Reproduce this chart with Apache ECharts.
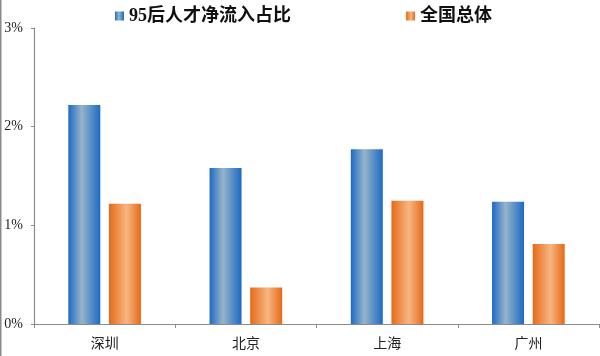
<!DOCTYPE html>
<html><head><meta charset="utf-8">
<script src="https://cdn.jsdelivr.net/npm/echarts@6/dist/echarts.min.js"></script>
<style>html,body{margin:0;padding:0;background:#fff}#c{width:600px;height:356px}</style>
</head><body><div id="c"></div>
<script>
var categories = ['深圳', '北京', '上海', '广州'];
var talent95 = [2.22, 1.58, 1.77, 1.24];
var national = [1.22, 0.37, 1.25, 0.81];
var yTicks = [0, 1, 2, 3];
var seriesNames = ['95后人才净流入占比', '全国总体'];

var serif = '"Liberation Serif", "Noto Sans CJK SC", serif';
function grad(edge, mid, pos) {
  return new echarts.graphic.LinearGradient(0, 0, 1, 0, [
    {offset: 0, color: edge}, {offset: pos, color: mid}, {offset: 1, color: edge}
  ]);
}
var chart = echarts.init(document.getElementById('c'));
chart.setOption({
  animation: false,
  graphic: [{type: 'rect', left: 0, top: 0, shape: {x: 0, y: 0, width: 1.5, height: 356}, style: {fill: '#8a8a8a'}}],
  legend: [
    {data: [seriesNames[0]], left: 115, top: 7, padding: 0, itemWidth: 9, itemHeight: 9, icon: 'rect', itemGap: 4,
     textStyle: {fontSize: 18, fontWeight: 'bold', color: '#111', fontFamily: serif}},
    {data: [seriesNames[1]], left: 406, top: 7, padding: 0, itemWidth: 9, itemHeight: 9, icon: 'rect', itemGap: 4,
     textStyle: {fontSize: 18, fontWeight: 'bold', color: '#111', fontFamily: serif}}
  ],
  grid: {left: 34, right: 1, top: 28, bottom: 32, containLabel: false},
  xAxis: {
    type: 'category', data: categories,
    axisLine: {lineStyle: {color: '#8c8c8c', width: 1.2}},
    axisTick: {show: true, length: 4, lineStyle: {color: '#8c8c8c'}},
    axisLabel: {fontSize: 14, color: '#222', fontFamily: serif, margin: 13}
  },
  yAxis: {
    type: 'value', min: yTicks[0], max: yTicks[yTicks.length - 1], interval: 1,
    axisLine: {show: true, lineStyle: {color: '#8c8c8c', width: 1.2}},
    axisTick: {show: true, length: 3, lineStyle: {color: '#8c8c8c'}},
    splitLine: {show: false},
    axisLabel: {fontSize: 14, color: '#222', fontFamily: serif, margin: 11, formatter: '{value}%'}
  },
  series: [
    {name: seriesNames[0], type: 'bar', data: talent95, barWidth: 32, barGap: '27%',
     itemStyle: {color: grad('#1d6ac5', '#96b4c9', 0.42)}},
    {name: seriesNames[1], type: 'bar', data: national, barWidth: 32,
     itemStyle: {color: grad('#e56a17', '#f8b682', 0.55)}}
  ]
});
</script></body></html>
